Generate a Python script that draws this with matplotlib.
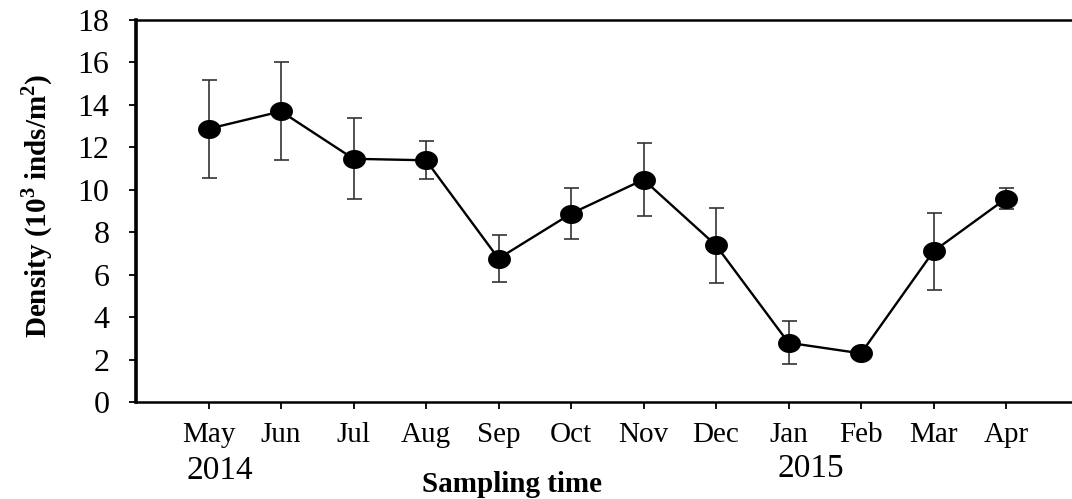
import numpy as np
import matplotlib
matplotlib.use("Agg")
import matplotlib.pyplot as plt
from matplotlib.path import Path

months = ["May", "Jun", "Jul", "Aug", "Sep", "Oct", "Nov", "Dec", "Jan", "Feb", "Mar", "Apr"]
density = [12.86, 13.68, 11.45, 11.38, 6.76, 8.87, 10.47, 7.38, 2.80, 2.30, 7.10, 9.58]
errors = [2.3, 2.3, 1.9, 0.9, 1.1, 1.2, 1.7, 1.75, 1.0, 0.2, 1.8, 0.5]
y_ticks = [0, 2, 4, 6, 8, 10, 12, 14, 16, 18]
year_labels = ["2014", "2015"]

plt.rcParams['font.family'] = ['Liberation Serif', 'DejaVu Serif']
plt.rcParams['mathtext.fontset'] = 'custom'
plt.rcParams['mathtext.rm'] = 'Liberation Serif'
plt.rcParams['mathtext.bf'] = 'Liberation Serif:bold'

W, H = 1072, 499
fig = plt.figure(figsize=(W / 100, H / 100), dpi=100)
ax = fig.add_axes([136 / W, 1 - 402.3 / H, 1 - 136 / W, (402.3 - 19.5) / H])

x = np.arange(len(months))

# ellipse marker (slightly wider than tall)
t = np.linspace(0, 2 * np.pi, 60)
ell = Path(np.column_stack([1.2 * np.cos(t), np.sin(t)]), closed=True)

ax.errorbar(x, density, yerr=errors, fmt='none', ecolor='#333333',
            elinewidth=1.2, capsize=5.4, capthick=1.2, zorder=2)
ax.plot(x, density, color='black', lw=1.7, zorder=3)
ax.plot(x, density, linestyle='none', marker=ell, ms=16.5, mfc='black',
        mec='black', mew=0, zorder=4)

ax.set_xlim(-1, (W - 136) / 72.5 - 1)
ax.set_ylim(0, 18)
ax.set_yticks(y_ticks)
ax.set_xticks(x)
ax.set_xticklabels(months)

ax.spines['right'].set_visible(False)
ax.spines['left'].set_linewidth(2.6)
ax.spines['top'].set_linewidth(1.8)
ax.spines['bottom'].set_linewidth(1.8)

ax.tick_params(axis='y', direction='out', length=5, width=1.3, pad=14,
               labelsize=23, colors='black')
ax.tick_params(axis='x', direction='out', length=5, width=1.3, pad=9,
               labelsize=21, colors='black')

fig.text(220 / W, 1 - 479 / H, year_labels[0], ha='center', va='baseline', fontsize=24)
fig.text(811 / W, 1 - 477 / H, year_labels[1], ha='center', va='baseline', fontsize=24)
fig.text(512 / W, 1 - 492 / H, "Sampling time", ha='center', va='baseline',
         fontsize=21, fontweight='bold')
fig.text(37 / W, 1 - 206 / H, r"Density (10$^{\mathbf{3}}$ inds/m$^{\mathbf{2}}$)",
         rotation=90, ha='center', va='center', fontsize=21, fontweight='bold')

fig.savefig("out.png", dpi=100)
